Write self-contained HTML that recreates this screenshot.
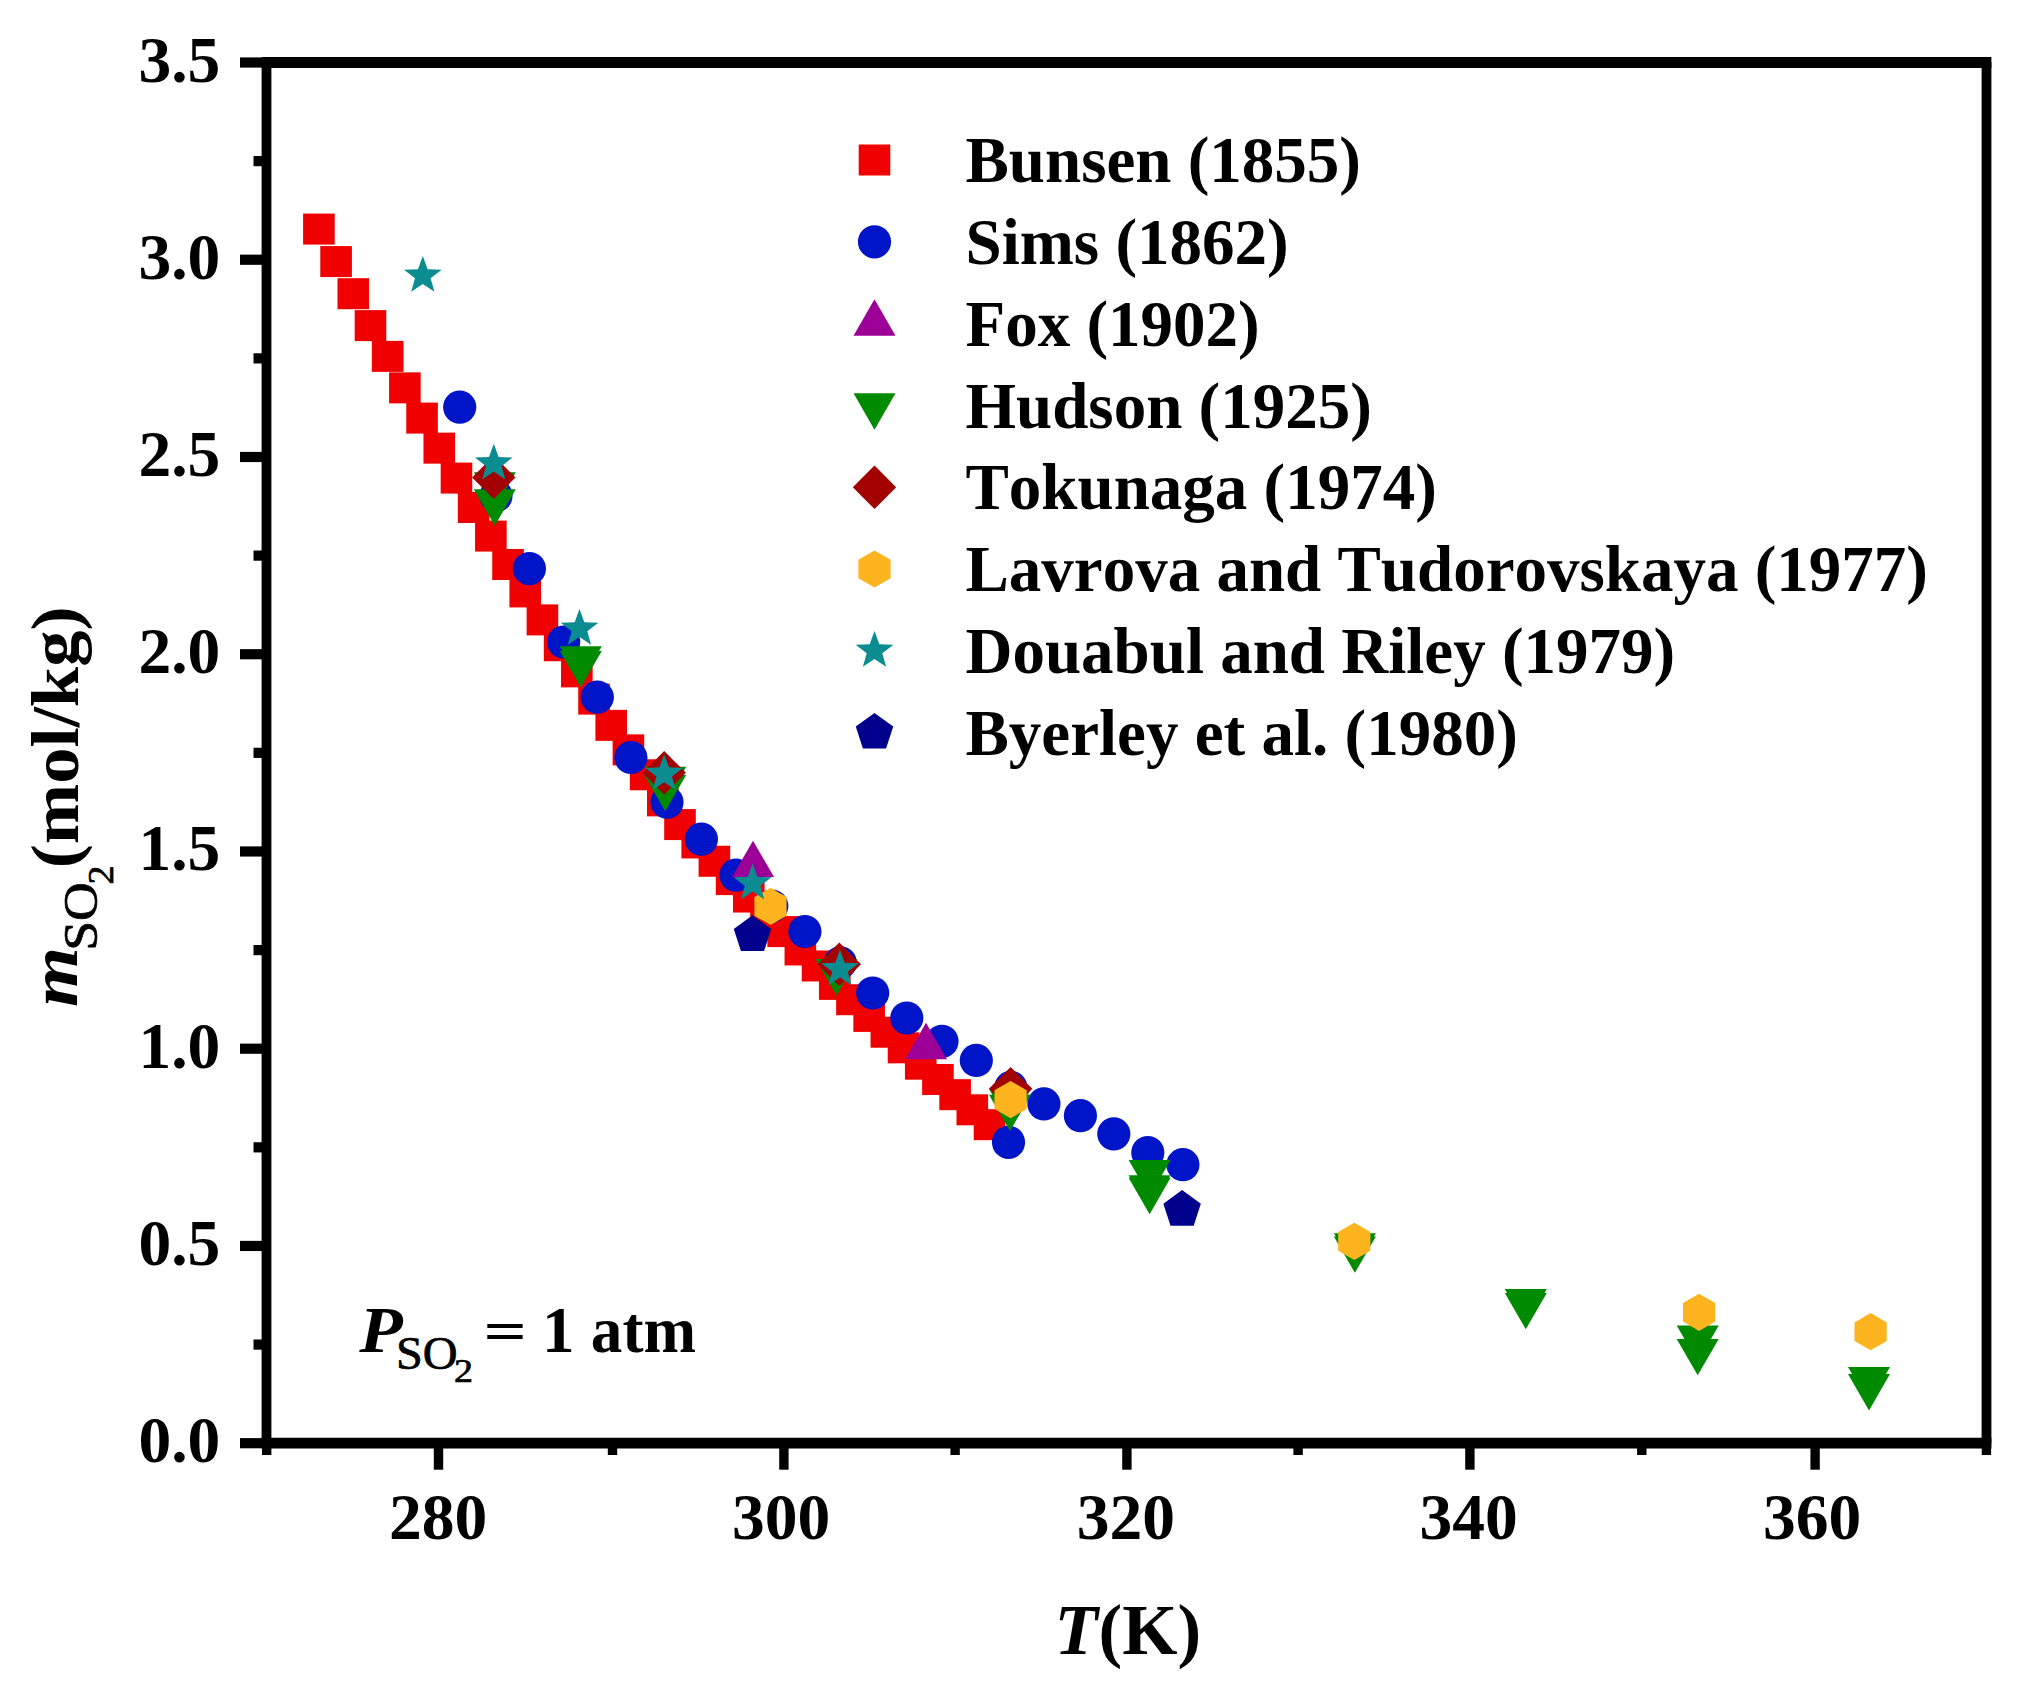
<!DOCTYPE html>
<html lang="en"><head><meta charset="utf-8"><title>SO2 solubility in water vs temperature</title>
<style>html,body{margin:0;padding:0;background:#fff}svg{display:block} text{font-family:"Liberation Serif", serif;fill:#000}text{font-kerning:none;font-variant-ligatures:none}.b{font-weight:bold}.bi{font-weight:bold;font-style:italic}</style></head><body>
<svg width="2029" height="1690" viewBox="0 0 2029 1690">
<rect width="2029" height="1690" fill="#fff"/>
<g id="bunsen"><rect x="303.1" y="213.58" width="31.6" height="31" fill="#f00000"/><rect x="320.29" y="246.07" width="31.6" height="31" fill="#f00000"/><rect x="337.49" y="278.2" width="31.6" height="31" fill="#f00000"/><rect x="354.68" y="310.12" width="31.6" height="31" fill="#f00000"/><rect x="371.88" y="340.87" width="31.6" height="31" fill="#f00000"/><rect x="389.07" y="372.36" width="31.6" height="31" fill="#f00000"/><rect x="406.27" y="402.59" width="31.6" height="31" fill="#f00000"/><rect x="423.46" y="432.65" width="31.6" height="31" fill="#f00000"/><rect x="440.66" y="462.6" width="31.6" height="31" fill="#f00000"/><rect x="457.85" y="491.99" width="31.6" height="31" fill="#f00000"/><rect x="475.05" y="520.56" width="31.6" height="31" fill="#f00000"/><rect x="492.24" y="548.97" width="31.6" height="31" fill="#f00000"/><rect x="509.44" y="576.42" width="31.6" height="31" fill="#f00000"/><rect x="526.63" y="604.4" width="31.6" height="31" fill="#f00000"/><rect x="543.83" y="630.22" width="31.6" height="31" fill="#f00000"/><rect x="561.03" y="656.38" width="31.6" height="31" fill="#f00000"/><rect x="578.22" y="683.63" width="31.6" height="31" fill="#f00000"/><rect x="595.41" y="709.86" width="31.6" height="31" fill="#f00000"/><rect x="612.61" y="734.38" width="31.6" height="31" fill="#f00000"/><rect x="629.81" y="759.28" width="31.6" height="31" fill="#f00000"/><rect x="647" y="785.37" width="31.6" height="31" fill="#f00000"/><rect x="664.2" y="809.07" width="31.6" height="31" fill="#f00000"/><rect x="681.39" y="827.43" width="31.6" height="31" fill="#f00000"/><rect x="698.59" y="845.77" width="31.6" height="31" fill="#f00000"/><rect x="715.78" y="864.11" width="31.6" height="31" fill="#f00000"/><rect x="732.98" y="881.54" width="31.6" height="31" fill="#f00000"/><rect x="750.17" y="898.86" width="31.6" height="31" fill="#f00000"/><rect x="767.37" y="916.08" width="31.6" height="31" fill="#f00000"/><rect x="784.56" y="934.48" width="31.6" height="31" fill="#f00000"/><rect x="801.76" y="950.48" width="31.6" height="31" fill="#f00000"/><rect x="818.95" y="968.88" width="31.6" height="31" fill="#f00000"/><rect x="836.14" y="984.21" width="31.6" height="31" fill="#f00000"/><rect x="853.34" y="1000.89" width="31.6" height="31" fill="#f00000"/><rect x="870.54" y="1016.71" width="31.6" height="31" fill="#f00000"/><rect x="887.73" y="1032.33" width="31.6" height="31" fill="#f00000"/><rect x="904.93" y="1048.69" width="31.6" height="31" fill="#f00000"/><rect x="922.12" y="1063.98" width="31.6" height="31" fill="#f00000"/><rect x="939.32" y="1079.18" width="31.6" height="31" fill="#f00000"/><rect x="956.51" y="1094.31" width="31.6" height="31" fill="#f00000"/><rect x="973.71" y="1109.19" width="31.6" height="31" fill="#f00000"/></g>
<g id="sims"><circle cx="459.7" cy="407.2" r="16.6" fill="#0014c8"/><circle cx="496" cy="495.8" r="16.6" fill="#0014c8"/><circle cx="529.4" cy="568.6" r="16.6" fill="#0014c8"/><circle cx="563.7" cy="642" r="16.6" fill="#0014c8"/><circle cx="597.3" cy="697.2" r="16.6" fill="#0014c8"/><circle cx="630.9" cy="757.5" r="16.6" fill="#0014c8"/><circle cx="667" cy="802.2" r="16.6" fill="#0014c8"/><circle cx="701.4" cy="839.2" r="16.6" fill="#0014c8"/><circle cx="736" cy="875.2" r="16.6" fill="#0014c8"/><circle cx="771.8" cy="906" r="16.6" fill="#0014c8"/><circle cx="804.9" cy="931.5" r="16.6" fill="#0014c8"/><circle cx="840.3" cy="962.8" r="16.6" fill="#0014c8"/><circle cx="872.7" cy="993" r="16.6" fill="#0014c8"/><circle cx="906.8" cy="1018" r="16.6" fill="#0014c8"/><circle cx="942" cy="1041.3" r="16.6" fill="#0014c8"/><circle cx="976.3" cy="1060.4" r="16.6" fill="#0014c8"/><circle cx="1010.8" cy="1087.4" r="16.6" fill="#0014c8"/><circle cx="1008.5" cy="1142.3" r="16.6" fill="#0014c8"/><circle cx="1043.9" cy="1103.9" r="16.6" fill="#0014c8"/><circle cx="1080.4" cy="1115.7" r="16.6" fill="#0014c8"/><circle cx="1113.8" cy="1133.9" r="16.6" fill="#0014c8"/><circle cx="1147.8" cy="1152.6" r="16.6" fill="#0014c8"/><circle cx="1182.9" cy="1164.7" r="16.6" fill="#0014c8"/></g>
<g id="fox"><polygon points="753,840.75 774,877.12 732,877.12" fill="#9c0096"/><polygon points="926,1022.85 947,1059.22 905,1059.22" fill="#9c0096"/></g>
<g id="hudson"><polygon points="473.8,472.18 515.8,472.18 494.8,508.55" fill="#008a00"/><polygon points="473.8,489.28 515.8,489.28 494.8,525.65" fill="#008a00"/><polygon points="559.8,646.18 601.8,646.18 580.8,682.55" fill="#008a00"/><polygon points="559.8,650.88 601.8,650.88 580.8,687.25" fill="#008a00"/><polygon points="644.2,766.68 686.2,766.68 665.2,803.05" fill="#008a00"/><polygon points="644.2,774.98 686.2,774.98 665.2,811.35" fill="#008a00"/><polygon points="815.5,959.08 857.5,959.08 836.5,995.45" fill="#008a00"/><polygon points="989,1089.08 1031,1089.08 1010,1125.45" fill="#008a00"/><polygon points="989,1094.68 1031,1094.68 1010,1131.05" fill="#008a00"/><polygon points="1128.6,1159.98 1170.6,1159.98 1149.6,1196.35" fill="#008a00"/><polygon points="1128.6,1175.28 1170.6,1175.28 1149.6,1211.65" fill="#008a00"/><polygon points="1128.6,1177.78 1170.6,1177.78 1149.6,1214.15" fill="#008a00"/><polygon points="1333.9,1233.18 1375.9,1233.18 1354.9,1269.55" fill="#008a00"/><polygon points="1333.9,1236.48 1375.9,1236.48 1354.9,1272.85" fill="#008a00"/><polygon points="1504.8,1288.88 1546.8,1288.88 1525.8,1325.25" fill="#008a00"/><polygon points="1504.8,1292.88 1546.8,1292.88 1525.8,1329.25" fill="#008a00"/><polygon points="1676.7,1325.58 1718.7,1325.58 1697.7,1361.95" fill="#008a00"/><polygon points="1676.7,1338.98 1718.7,1338.98 1697.7,1375.35" fill="#008a00"/><polygon points="1848,1366.98 1890,1366.98 1869,1403.35" fill="#008a00"/><polygon points="1848,1374.08 1890,1374.08 1869,1410.45" fill="#008a00"/></g>
<g id="tokunaga"><polygon points="493.8,455.7 515.5,477.4 493.8,499.1 472.1,477.4" fill="#a30000"/><polygon points="664.2,751.1 685.9,772.8 664.2,794.5 642.5,772.8" fill="#a30000"/><polygon points="839.3,942.5 861,964.2 839.3,985.9 817.6,964.2" fill="#a30000"/><polygon points="1010.6,1067.1 1032.3,1088.8 1010.6,1110.5 988.9,1088.8" fill="#a30000"/></g>
<g id="lavrova"><polygon points="770.5,887.8 786.61,897.1 786.61,915.7 770.5,925 754.39,915.7 754.39,897.1" fill="#fdb41f"/><polygon points="1010.6,1081 1026.71,1090.3 1026.71,1108.9 1010.6,1118.2 994.49,1108.9 994.49,1090.3" fill="#fdb41f"/><polygon points="1354.3,1222.8 1370.41,1232.1 1370.41,1250.7 1354.3,1260 1338.19,1250.7 1338.19,1232.1" fill="#fdb41f"/><polygon points="1699.1,1293.7 1715.21,1303 1715.21,1321.6 1699.1,1330.9 1682.99,1321.6 1682.99,1303" fill="#fdb41f"/><polygon points="1870.6,1313.1 1886.71,1322.4 1886.71,1341 1870.6,1350.3 1854.49,1341 1854.49,1322.4" fill="#fdb41f"/></g>
<g id="douabul"><polygon points="422.8,256 427.62,269.17 441.63,269.68 430.6,278.33 434.44,291.82 422.8,284 411.16,291.82 415,278.33 403.97,269.68 417.98,269.17" fill="#0a8c91"/><polygon points="493.8,443.8 498.62,456.97 512.63,457.48 501.6,466.13 505.44,479.62 493.8,471.8 482.16,479.62 486,466.13 474.97,457.48 488.98,456.97" fill="#0a8c91"/><polygon points="579.5,609 584.32,622.17 598.33,622.68 587.3,631.33 591.14,644.82 579.5,637 567.86,644.82 571.7,631.33 560.67,622.68 574.68,622.17" fill="#0a8c91"/><polygon points="664.2,754.2 669.02,767.37 683.03,767.88 672,776.53 675.84,790.02 664.2,782.2 652.56,790.02 656.4,776.53 645.37,767.88 659.38,767.37" fill="#0a8c91"/><polygon points="752.6,863.6 757.42,876.77 771.43,877.28 760.4,885.93 764.24,899.42 752.6,891.6 740.96,899.42 744.8,885.93 733.77,877.28 747.78,876.77" fill="#0a8c91"/><polygon points="840,949.5 844.82,962.67 858.83,963.18 847.8,971.83 851.64,985.32 840,977.5 828.36,985.32 832.2,971.83 821.17,963.18 835.18,962.67" fill="#0a8c91"/></g>
<g id="byerley"><polygon points="752.5,915.3 771.24,928.91 764.08,950.94 740.92,950.94 733.76,928.91" fill="#00008c"/><polygon points="1182.1,1190.1 1200.84,1203.71 1193.68,1225.74 1170.52,1225.74 1163.36,1203.71" fill="#00008c"/></g>
<g id="axes" stroke="#000" fill="none">
<line x1="261.6" y1="62.5" x2="1991.4" y2="62.5" stroke-width="10.8"/>
<line x1="261.6" y1="1443.2" x2="1991.4" y2="1443.2" stroke-width="10.8"/>
<line x1="266.5" y1="62.5" x2="266.5" y2="1443.2" stroke-width="9.8"/>
<line x1="1986.5" y1="62.5" x2="1986.5" y2="1443.2" stroke-width="9.8"/>
<line x1="240" y1="1443.2" x2="266.5" y2="1443.2" stroke-width="10.2"/>
<line x1="253.5" y1="1344.58" x2="266.5" y2="1344.58" stroke-width="10.2"/>
<line x1="240" y1="1245.96" x2="266.5" y2="1245.96" stroke-width="10.2"/>
<line x1="253.5" y1="1147.34" x2="266.5" y2="1147.34" stroke-width="10.2"/>
<line x1="240" y1="1048.71" x2="266.5" y2="1048.71" stroke-width="10.2"/>
<line x1="253.5" y1="950.09" x2="266.5" y2="950.09" stroke-width="10.2"/>
<line x1="240" y1="851.47" x2="266.5" y2="851.47" stroke-width="10.2"/>
<line x1="253.5" y1="752.85" x2="266.5" y2="752.85" stroke-width="10.2"/>
<line x1="240" y1="654.23" x2="266.5" y2="654.23" stroke-width="10.2"/>
<line x1="253.5" y1="555.61" x2="266.5" y2="555.61" stroke-width="10.2"/>
<line x1="240" y1="456.99" x2="266.5" y2="456.99" stroke-width="10.2"/>
<line x1="253.5" y1="358.36" x2="266.5" y2="358.36" stroke-width="10.2"/>
<line x1="240" y1="259.74" x2="266.5" y2="259.74" stroke-width="10.2"/>
<line x1="253.5" y1="161.12" x2="266.5" y2="161.12" stroke-width="10.2"/>
<line x1="240" y1="62.5" x2="266.5" y2="62.5" stroke-width="10.2"/>
<line x1="266.7" y1="1443.2" x2="266.7" y2="1455" stroke-width="9.4"/>
<line x1="438.5" y1="1443.2" x2="438.5" y2="1469.7" stroke-width="9.4"/>
<line x1="612.5" y1="1443.2" x2="612.5" y2="1455" stroke-width="9.4"/>
<line x1="783.9" y1="1443.2" x2="783.9" y2="1469.7" stroke-width="9.4"/>
<line x1="955.1" y1="1443.2" x2="955.1" y2="1455" stroke-width="9.4"/>
<line x1="1126.9" y1="1443.2" x2="1126.9" y2="1469.7" stroke-width="9.4"/>
<line x1="1298.1" y1="1443.2" x2="1298.1" y2="1455" stroke-width="9.4"/>
<line x1="1469.9" y1="1443.2" x2="1469.9" y2="1469.7" stroke-width="9.4"/>
<line x1="1641.8" y1="1443.2" x2="1641.8" y2="1455" stroke-width="9.4"/>
<line x1="1815.1" y1="1443.2" x2="1815.1" y2="1469.7" stroke-width="9.4"/>
<line x1="1986.4" y1="1443.2" x2="1986.4" y2="1455" stroke-width="9.4"/>
</g>
<g id="ticklabels" class="b" font-size="65.5">
<text x="220.3" y="1462.2" text-anchor="end">0.0</text>
<text x="220.3" y="1264.96" text-anchor="end">0.5</text>
<text x="220.3" y="1067.71" text-anchor="end">1.0</text>
<text x="220.3" y="870.47" text-anchor="end">1.5</text>
<text x="220.3" y="673.23" text-anchor="end">2.0</text>
<text x="220.3" y="475.99" text-anchor="end">2.5</text>
<text x="220.3" y="278.74" text-anchor="end">3.0</text>
<text x="220.3" y="81.5" text-anchor="end">3.5</text>
<text x="438" y="1539.0" text-anchor="middle">280</text>
<text x="781" y="1539.0" text-anchor="middle">300</text>
<text x="1125.9" y="1539.0" text-anchor="middle">320</text>
<text x="1468.7" y="1539.0" text-anchor="middle">340</text>
<text x="1812.2" y="1539.0" text-anchor="middle">360</text>
</g>
<g id="xtitle" font-size="71"><text class="bi" x="1054.6" y="1654.3">T</text><text class="b" x="1098.6" y="1654.3">(K)</text></g>
<g id="ytitle" transform="translate(0,1008.5) rotate(-90)">
<text transform="translate(1.5,77.4) scale(1.127,1)" font-size="68.5" class="bi">m</text>
<text transform="translate(57.7,97) scale(1.12,1)" font-size="48" stroke="#000" stroke-width="0.7">SO</text>
<text transform="translate(124.1,113) scale(1.056,1)" font-size="36" stroke="#000" stroke-width="0.7">2</text>
<text transform="translate(140.2,78.2) scale(1.059,1)" font-size="68.5" class="b">(mol/kg)</text>
</g>
<g id="note">
<text transform="translate(359.3,1351.7) scale(1.07,1)" font-size="66.5" class="bi">P</text>
<text transform="translate(395.9,1368.6) scale(1.06,1)" font-size="45.5" stroke="#000" stroke-width="0.7">SO</text>
<text transform="translate(453.9,1381.8) scale(1.15,1)" font-size="33" stroke="#000" stroke-width="0.7">2</text>
<text transform="translate(483.4,1349.9) scale(1.17,0.88)" font-size="65" class="b">=</text>
<text transform="translate(541.9,1351.7) scale(1,1)" font-size="65" class="b">1</text>
<text transform="translate(590.8,1351.7) scale(0.972,1)" font-size="65" class="b">atm</text>
</g>
<g id="legend">
<rect x="858.7" y="144.5" width="31.6" height="31" fill="#f00000"/>
<text class="b" font-size="65" x="965.5" y="182.2">Bunsen (1855)</text>
<circle cx="874.5" cy="241.8" r="16.6" fill="#0014c8"/>
<text class="b" font-size="65" x="965.5" y="264">Sims (1862)</text>
<polygon points="874.5,299.35 895.5,335.72 853.5,335.72" fill="#9c0096"/>
<text class="b" font-size="65" x="965.5" y="345.8">Fox (1902)</text>
<polygon points="853.5,393.28 895.5,393.28 874.5,429.65" fill="#008a00"/>
<text class="b" font-size="65" x="965.5" y="427.6">Hudson (1925)</text>
<polygon points="874.5,465.5 896.2,487.2 874.5,508.9 852.8,487.2" fill="#a30000"/>
<text class="b" font-size="65" x="965.5" y="509.4">Tokunaga (1974)</text>
<polygon points="874.5,550.4 890.61,559.7 890.61,578.3 874.5,587.6 858.39,578.3 858.39,559.7" fill="#fdb41f"/>
<text class="b" font-size="65" x="965.5" y="591.2">Lavrova and Tudorovskaya (1977)</text>
<polygon points="874.5,631 879.32,644.17 893.33,644.68 882.3,653.33 886.14,666.82 874.5,659 862.86,666.82 866.7,653.33 855.67,644.68 869.68,644.17" fill="#0a8c91"/>
<text class="b" font-size="65" x="965.5" y="673">Douabul and Riley (1979)</text>
<polygon points="874.5,712.9 893.24,726.51 886.08,748.54 862.92,748.54 855.76,726.51" fill="#00008c"/>
<text class="b" font-size="65" x="965.5" y="754.8">Byerley et al. (1980)</text>
</g>
</svg></body></html>
